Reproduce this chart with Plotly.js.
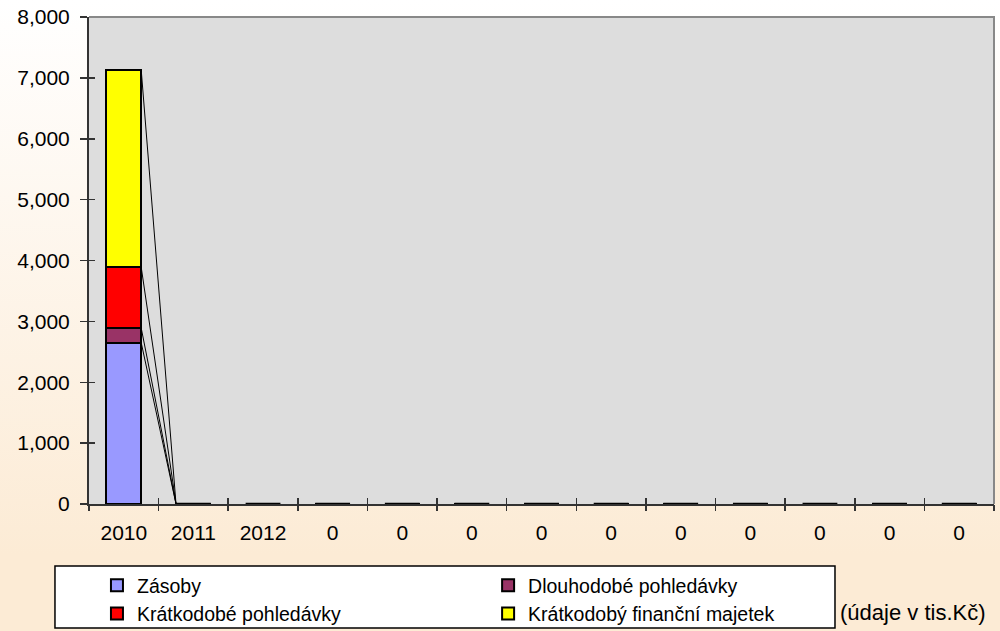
<!DOCTYPE html>
<html><head><meta charset="utf-8">
<script src="https://cdn.plot.ly/plotly-3.0.1.min.js"></script>
<style>
html,body{margin:0;padding:0;}
body{width:1000px;height:631px;background:linear-gradient(to bottom,#ffffff 0%,#fcebd5 88%);overflow:hidden;}
#chart{width:1000px;height:631px;}
</style></head><body><div id="chart"></div>
<script>
// ---- data ----
const categories = ['2010','2011','2012','0','0','0','0','0','0','0','0','0','0'];
const zasoby         = [2650,0,0,0,0,0,0,0,0,0,0,0,0];
const dlouhodobe     = [240,0,0,0,0,0,0,0,0,0,0,0,0];
const kratkodobePohl = [1000,0,0,0,0,0,0,0,0,0,0,0,0];
const financniMaj    = [3240,0,0,0,0,0,0,0,0,0,0,0,0];
const seriesNames  = ['Zásoby','Dlouhodobé pohledávky','Krátkodobé pohledávky','Krátkodobý finanční majetek'];
const seriesColors = ['#9999FF','#993366','#FF0000','#FFFF00'];
const yTicks = [0,1000,2000,3000,4000,5000,6000,7000,8000];
const unitNote = '(údaje v tis.Kč)';

// ---- build ----
const series = [zasoby, dlouhodobe, kratkodobePohl, financniMaj];
const idx = categories.map((c,i)=>i);
const barW = 0.5, half = barW/2;
const FONT = 'Liberation Sans, Arial, sans-serif';
const legendOf = ['legend','legend2','legend','legend2'];

const traces = series.map((vals,k)=>({
  type:'bar', x:idx, y:vals, width:barW, name:seriesNames[k],
  legend:legendOf[k],
  marker:{color:seriesColors[k], line:{color:'#000', width:2}},
  hoverinfo:'y+name'
}));

// cumulative tops for series lines
const cum = [];
series.forEach((vals,k)=>{
  cum.push(vals.map((v,i)=> v + (k>0 ? cum[k-1][i] : 0)));
});
const slx=[], sly=[];
for(let i=0;i<idx.length-1;i++){
  for(let k=0;k<series.length;k++){
    if(cum[k][i]!==0 || cum[k][i+1]!==0){
      slx.push(idx[i]+half, idx[i+1]-half, null);
      sly.push(cum[k][i], cum[k][i+1], null);
    }
  }
}
traces.push({type:'scatter', mode:'lines', x:slx, y:sly, line:{color:'#000', width:1},
  showlegend:false, hoverinfo:'skip'});

// outlines of zero-height bars
const zx=[], zy=[];
idx.forEach(i=>{
  if(cum[series.length-1][i]===0){ zx.push(i-half, i+half, null); zy.push(0,0,null); }
});
traces.push({type:'scatter', mode:'lines', x:zx, y:zy, line:{color:'#000', width:2.5},
  showlegend:false, hoverinfo:'skip', cliponaxis:false});

// dummy traces for tick overlay axes
traces.push({type:'scatter', mode:'none', x:[-0.5], y:[0], xaxis:'x2', yaxis:'y', showlegend:false, hoverinfo:'skip'});
traces.push({type:'scatter', mode:'none', x:[-0.5], y:[0], xaxis:'x3', yaxis:'y', showlegend:false, hoverinfo:'skip'});
traces.push({type:'scatter', mode:'none', x:[-0.5], y:[0], xaxis:'x', yaxis:'y2', showlegend:false, hoverinfo:'skip'});

const bounds = idx.map(i=>i-0.5).concat([idx.length-0.5]);
const xr = [-0.5, idx.length-0.5];
const yr = [yTicks[0], yTicks[yTicks.length-1]];
const AX = '#333333';

const layout = {
  width:1000, height:631,
  margin:{l:89, r:6, t:17, b:127, pad:0, autoexpand:false},
  paper_bgcolor:'rgba(0,0,0,0)', plot_bgcolor:'#DDDDDD',
  barmode:'stack', bargap:0.5,
  font:{family:FONT, color:'#000', size:20},
  showlegend:true,
  xaxis:{range:xr, tickmode:'array', tickvals:idx, ticktext:categories, ticks:'',
    showline:true, linecolor:AX, linewidth:2, showgrid:false, zeroline:false,
    tickfont:{size:21, family:FONT}, ticklabelstandoff:9, fixedrange:true},
  xaxis2:{overlaying:'x', anchor:'y', range:xr, tickmode:'array', tickvals:bounds,
    ticks:'outside', ticklen:6, tickwidth:1.5, tickcolor:AX, showticklabels:false,
    showline:false, showgrid:false, zeroline:false},
  xaxis3:{overlaying:'x', anchor:'y', range:xr, tickmode:'array', tickvals:bounds,
    ticks:'inside', ticklen:6, tickwidth:1.5, tickcolor:AX, showticklabels:false,
    showline:false, showgrid:false, zeroline:false},
  yaxis:{range:yr, tickmode:'array', tickvals:yTicks, tickformat:',', ticks:'outside',
    ticklen:7, tickwidth:1.5, tickcolor:AX, showline:true, linecolor:AX, linewidth:2,
    showgrid:false, zeroline:false, tickfont:{size:21, family:FONT}, ticklabelstandoff:6},
  yaxis2:{overlaying:'y', anchor:'x', range:yr, tickmode:'array', tickvals:yTicks,
    ticks:'inside', ticklen:6, tickwidth:1.5, tickcolor:AX, showticklabels:false,
    showline:false, showgrid:false, zeroline:false},
  legend:{x:0.0088, xanchor:'left', y:-0.1273, yanchor:'top', orientation:'v',
    traceorder:'normal', bgcolor:'rgba(0,0,0,0)', borderwidth:0,
    font:{family:FONT, size:19.5, color:'#000'}},
  legend2:{x:0.441, xanchor:'left', y:-0.1273, yanchor:'top', orientation:'v',
    traceorder:'normal', bgcolor:'rgba(0,0,0,0)', borderwidth:0,
    font:{family:FONT, size:19.5, color:'#000'}},
  shapes:[
    {type:'path', xref:'paper', yref:'paper', path:'M0,1 L1,1 L1,0',
     line:{color:'#888888', width:2}, layer:'above'},
    {type:'rect', xref:'paper', yref:'paper', x0:-0.0376, x1:0.8243, y0:-0.1273, y1:-0.2546,
     line:{color:'#000', width:1.5}, fillcolor:'#FFFFFF', layer:'above'}
  ],
  annotations:[
    {xref:'paper', yref:'paper', x:0.8276, y:-0.2218, xanchor:'left', yanchor:'middle',
     text:unitNote, showarrow:false, font:{family:FONT, size:22, color:'#000'}}
  ]
};

Plotly.newPlot('chart', traces, layout, {displayModeBar:false, staticPlot:true});
</script>
</body></html>
